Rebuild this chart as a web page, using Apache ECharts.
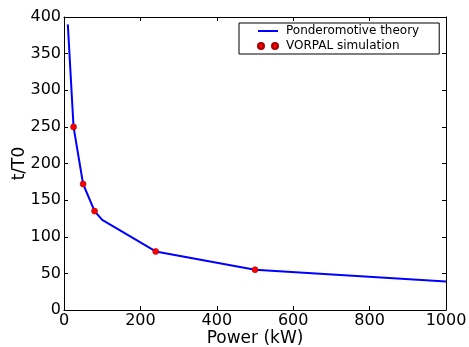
<!DOCTYPE html>
<html>
<head>
<meta charset="utf-8">
<script src="https://cdn.jsdelivr.net/npm/echarts@6/dist/echarts.min.js"></script>
<style>
  html, body { margin: 0; padding: 0; background: #fff; }
  #chart { width: 469px; height: 347px; }
</style>
</head>
<body>
<div id="chart"></div>
<script>
// Ponderomotive theory curve: power (kW) vs t/T0
const theoryPower = [10, 25, 50, 80, 100, 240, 500, 1000];
const theoryT = [390, 250, 172, 135, 123, 80, 55, 39];

// VORPAL simulation results
const simPower = [25, 50, 80, 240, 500];
const simT = [250, 172, 135, 80, 55];

const xTicks = { min: 0, max: 1000, interval: 200 };
const yTicks = { min: 0, max: 400, interval: 50 };

const FONT = 'DejaVu Sans';

const chart = echarts.init(document.getElementById('chart'), null, { renderer: 'canvas' });

const lineIcon = 'path://M0,0h20v2h-20z';
const dotsIcon = 'path://M0,3a3,3 0 1,0 6,0a3,3 0 1,0 -6,0z M14,3a3,3 0 1,0 6,0a3,3 0 1,0 -6,0z';

const plain = v => String(v);

const baseAxis = {
  axisLine: { show: true, onZero: false, lineStyle: { color: '#000', width: 1 } },
  axisTick: { show: true, inside: true, length: 4, lineStyle: { color: '#000' } },
  splitLine: { show: false }
};

chart.setOption({
  animation: false,
  grid: { left: 64, right: 23, top: 17, bottom: 37, containLabel: false, outerBoundsMode: 'none' },
  legend: {
    left: 239, top: 23,
    orient: 'vertical',
    padding: [1, 20, 1, 18],
    itemGap: 1,
    itemWidth: 20,
    itemHeight: 14,
    borderColor: '#000',
    borderWidth: 1,
    textStyle: { fontFamily: FONT, fontSize: 12, color: '#000', lineHeight: 14, padding: [0, 0, 0, 3] },
    data: [
      { name: 'Ponderomotive theory', icon: lineIcon },
      { name: 'VORPAL simulation', icon: dotsIcon }
    ]
  },
  xAxis: [
    Object.assign({}, baseAxis, {
      type: 'value', position: 'bottom',
      min: xTicks.min, max: xTicks.max, interval: xTicks.interval,
      name: 'Power (kW)', nameLocation: 'middle', nameGap: 20, nameMoveOverlap: false,
      nameTextStyle: { fontFamily: FONT, fontSize: 17, color: '#000' },
      axisLabel: { fontFamily: FONT, fontSize: 16, color: '#000', margin: 3, formatter: plain }
    }),
    Object.assign({}, baseAxis, {
      type: 'value', position: 'top',
      min: xTicks.min, max: xTicks.max, interval: xTicks.interval,
      axisLabel: { show: false }
    })
  ],
  yAxis: [
    Object.assign({}, baseAxis, {
      type: 'value', position: 'left',
      min: yTicks.min, max: yTicks.max, interval: yTicks.interval,
      name: 't/T0', nameLocation: 'middle', nameGap: 36, nameRotate: 90, nameMoveOverlap: false,
      nameTextStyle: { fontFamily: FONT, fontSize: 17, color: '#000' },
      axisLabel: { fontFamily: FONT, fontSize: 16, color: '#000', margin: 3, formatter: plain }
    }),
    Object.assign({}, baseAxis, {
      type: 'value', position: 'right',
      min: yTicks.min, max: yTicks.max, interval: yTicks.interval,
      axisLabel: { show: false }
    })
  ],
  series: [
    {
      name: 'Ponderomotive theory',
      type: 'line',
      color: '#0000ff',
      showSymbol: false,
      symbol: 'none',
      lineStyle: { color: '#0000ff', width: 2 },
      itemStyle: { color: '#0000ff' },
      data: theoryPower.map((p, i) => [p, theoryT[i]]),
      z: 2
    },
    {
      name: 'VORPAL simulation',
      type: 'scatter',
      symbol: 'circle',
      symbolSize: 6,
      itemStyle: { color: '#ff0000', borderColor: '#a00000', borderWidth: 0.6, opacity: 1 },
      data: simPower.map((p, i) => [p, simT[i]]),
      z: 3
    }
  ]
});
</script>
</body>
</html>
